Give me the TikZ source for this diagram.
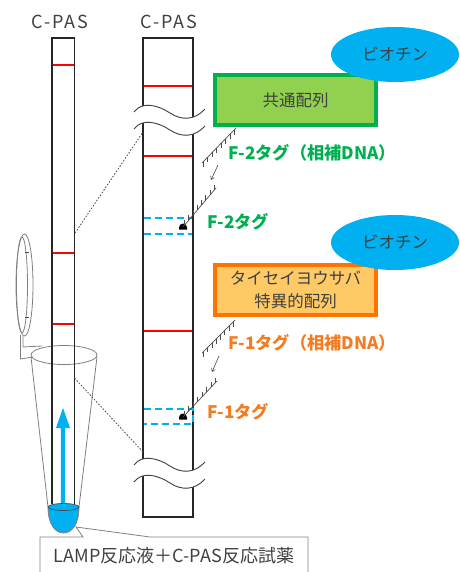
\documentclass[tikz,border=0pt]{standalone}
\usepackage{fontspec}
\setmainfont{Noto Sans CJK JP}
\usetikzlibrary{shapes.geometric,arrows.meta,calc}
\definecolor{skyblue}{HTML}{00B0F0}
\definecolor{leafgreen}{HTML}{92D050}
\definecolor{deepgreen}{HTML}{00B050}
\definecolor{paleorange}{HTML}{FFC966}
\definecolor{strongorange}{HTML}{FF7300}
\definecolor{orangetext}{HTML}{F47B20}
\definecolor{inkgray}{HTML}{404040}
\definecolor{tubegray}{HTML}{808080}
\definecolor{markred}{HTML}{FF0000}

\tikzset{
  stripline/.style={line width=1.2pt, draw=black!85},
  redmark/.style={draw=markred, line width=1.3pt},
  tagline/.style={draw=skyblue, line width=1.2pt, dash pattern=on 7pt off 4pt},
  tubeline/.style={draw=tubegray, line width=0.8pt},
  waveline/.style={draw=black!75, line width=0.9pt},
  zoomline/.style={draw=black!70, line width=0.8pt, dash pattern=on 1.6pt off 1.6pt},
  combline/.style={draw=black!70, line width=0.7pt},
  moveline/.style={draw=black!70, line width=0.6pt, -{Straight Barb[length=3pt,width=4pt]}},
  biotin/.style={ellipse, fill=skyblue, minimum width=128pt, minimum height=55pt,
    inner sep=0pt, text=inkgray, font=\fontsize{16.5}{19}\selectfont},
  seqbox/.style={rectangle, line width=3.6pt, minimum width=161pt, minimum height=50pt,
    inner sep=0pt, align=center, text=inkgray, font=\fontsize{16.5}{23}\selectfont},
  taglabel/.style={anchor=west, inner sep=0pt, font=\fontsize{17.2}{20}\selectfont\bfseries},
  plainlabel/.style={inner sep=0pt, text=inkgray, font=\fontsize{16}{19}\selectfont},
}

% comb-like DNA strand: end points and tick length (sign gives direction)
\newcommand\combstrand[3]{%
  \draw[combline] (#1) -- (#2);
  \foreach \t in {0.05,0.18,0.31,0.44,0.57,0.70,0.83,0.96}
    \draw[combline] ($(#1)!\t!(#2)$) -- ++(0,#3);
}

\begin{document}
\begin{tikzpicture}[x=1pt,y=-1pt]
\useasboundingbox (0,0) rectangle (459,572);
\clip (0,0) rectangle (459,572);

% ---------- labels above the strips ----------
\node[plainlabel, font=\fontsize{18}{20}\selectfont\addfontfeature{LetterSpace=10}] (lefttitle) at (60,22) {C-PAS};
\node[plainlabel, font=\fontsize{18}{20}\selectfont\addfontfeature{LetterSpace=10}] (righttitle) at (169,22) {C-PAS};

% ---------- tube cap and hinge ----------
\draw[tubeline] (24.5,285) ellipse [x radius=8.5, y radius=51];
\draw[tubeline] (22,285) ellipse [x radius=5.5, y radius=48];
\draw[combline] (25,252) -- (29,252) (25,317) -- (29,317);
\draw[tubeline] (20.5,335) -- (20.5,359) -- (33,357);
\draw[tubeline] (23,336) -- (23,347) -- (42,346);

% ---------- tube body ----------
\draw[tubeline] (31,357) -- (48,507);
\draw[tubeline] (97,357) -- (79,507);
\draw[tubeline] (64,355) ellipse [x radius=33, y radius=9.5];

% liquid at the tube bottom
\fill[skyblue] (48,507) .. controls (48,524) and (55,533) .. (63.5,533)
  .. controls (72,533) and (79,524) .. (79,507) -- cycle;
\draw[tubeline] (48,507) .. controls (48,524) and (55,533) .. (63.5,533)
  .. controls (72,533) and (79,524) .. (79,507);
\fill[skyblue] (63.5,507) ellipse [x radius=15.5, y radius=3.5];
\draw[draw=black!70, line width=0.7pt] (63.5,507) ellipse [x radius=15.5, y radius=3.5];
\coordinate (liquid) at (76,527);

% ---------- strip dipped in the tube ----------
\coordinate (ltl) at (52,38);
\coordinate (ltr) at (74.5,38);
\draw[stripline] (52,504) -- (ltl) -- (ltr) -- (74.5,504);
\foreach \yy in {65,253,324}
  \draw[redmark] (52.6,\yy) -- (73.9,\yy);

% flow arrow
\fill[skyblue] (60.8,503) -- (60.8,428) -- (56,428) -- (63,408) -- (70,428)
  -- (65.2,428) -- (65.2,503) -- cycle;

% ---------- enlarged strip ----------
\coordinate (rtl) at (143,38);
\coordinate (rtr) at (193,38);
\coordinate (rbl) at (143,517);
\coordinate (rbr) at (193,517);
\draw[stripline] (rbl) -- (rtl) -- (rtr) -- (rbr) -- cycle;
\foreach \yy in {86,156,331}
  \draw[redmark] (143.6,\yy) -- (192.4,\yy);

% test line zones
\draw[tagline] (143.6,218) -- (192.4,218) (143.6,234) -- (192.4,234);
\draw[tagline] (143.6,409) -- (193,409) -- (193,424) -- (143.6,424);

% bound tags
\node[inner sep=0pt, minimum size=0pt] (blobtwo) at (183,227) {};
\node[inner sep=0pt, minimum size=0pt] (blobone) at (183,417) {};
\fill (179,229.5) -- (179,227.5) arc[start angle=180, end angle=360, radius=4] -- (187,229.5) -- cycle;
\fill (179,419.5) -- (179,417.5) arc[start angle=180, end angle=360, radius=4] -- (187,419.5) -- cycle;

% breaks in the enlarged strip
\foreach \yy in {0,353} {
  \begin{scope}[shift={(0,\yy)}]
    \fill[white] (134,112) .. controls (142,101) and (158,105) .. (170,113)
      .. controls (182,121) and (195,120) .. (205,109) -- (205,126)
      .. controls (195,137) and (182,138) .. (170,130)
      .. controls (158,122) and (142,118) .. (134,129) -- cycle;
    \draw[waveline] (134,112) .. controls (142,101) and (158,105) .. (170,113)
      .. controls (182,121) and (195,120) .. (205,109);
    \draw[waveline] (134,129) .. controls (142,118) and (158,122) .. (170,130)
      .. controls (182,138) and (195,137) .. (205,126);
  \end{scope}
}

% zoom guide lines
\coordinate (zoomfromtop) at (75,233);
\coordinate (zoomtotop) at (143,132);
\coordinate (zoomfrombot) at (74.5,378);
\coordinate (zoomtobot) at (143,452);
\draw[zoomline] (zoomfromtop) -- (zoomtotop);
\draw[zoomline] (zoomfrombot) -- (zoomtobot);

% ---------- probes ----------
\node[seqbox, draw=deepgreen, fill=leafgreen] (common) at (295.5,100) {共通配列};
\node[seqbox, draw=strongorange, fill=paleorange] (specific) at (295.5,290)
  {タイセイヨウサバ\\特異的配列};
\node[biotin] (biotintwo) at (395,54.5) {ビオチン};
\node[biotin] (biotinone) at (395,242.5) {ビオチン};

% F-2 complementary strand and its bound partner
\coordinate (ftwoa) at (236,128);
\coordinate (ftwob) at (202,163);
\coordinate (ftwoc) at (216,188);
\combstrand{ftwoa}{ftwob}{5}
\combstrand{ftwoc}{blobtwo}{-5}
\coordinate (ftwomovea) at (218,165);
\coordinate (ftwomoveb) at (211,180);
\draw[moveline] (ftwomovea) -- (ftwomoveb);

% F-1 complementary strand and its bound partner
\coordinate (fonea) at (235,320);
\coordinate (foneb) at (202,353);
\coordinate (fonec) at (217,381);
\combstrand{fonea}{foneb}{5}
\combstrand{fonec}{blobone}{-5}
\coordinate (fonemovea) at (219,356);
\coordinate (fonemoveb) at (212,372);
\draw[moveline] (fonemovea) -- (fonemoveb);

% tag labels
\node[taglabel, text=deepgreen] (ftwocomp) at (228,153) {F-2タグ（相補DNA）};
\node[taglabel, text=deepgreen] (ftwotag) at (207,222) {F-2タグ};
\node[taglabel, text=orangetext] (fonecomp) at (228,343) {F-1タグ（相補DNA）};
\node[taglabel, text=orangetext] (fonetag) at (207,412) {F-1タグ};

% ---------- callout ----------
\draw[tubeline] (40,590) -- (40,537) -- (83,537) -- (liquid) -- (150,537) -- (308,537) -- (308,590);
\node[plainlabel, font=\fontsize{18}{20}\selectfont] (mixture) at (174,556) {LAMP反応液＋C-PAS反応試薬};
\end{tikzpicture}
\end{document}
